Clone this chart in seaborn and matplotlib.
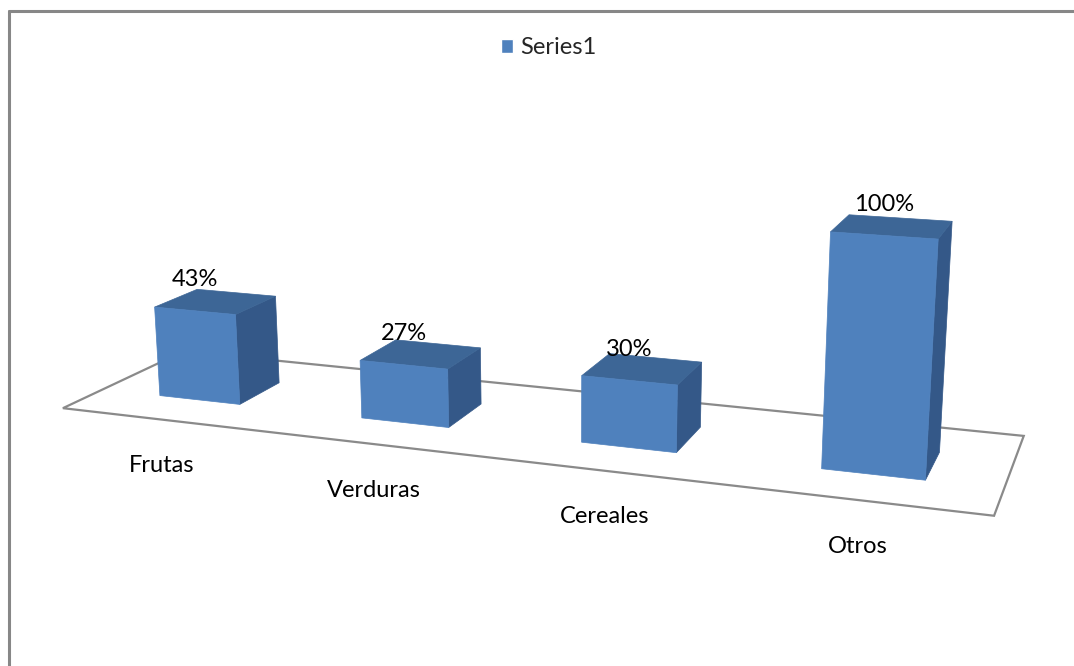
import numpy as np
import pandas as pd
import seaborn as sns
import matplotlib
matplotlib.use("Agg")
import matplotlib.pyplot as plt
import matplotlib.transforms as mtransforms
from matplotlib.patches import Rectangle
from matplotlib.lines import Line2D

# ---------------- data ----------------
categories = ["Frutas", "Verduras", "Cereales", "Otros"]
values = [43, 27, 30, 100]
series = "Series1"

# ---------------- layout / style ----------------
FIG_W, FIG_H, DPI = 10.74, 6.66, 100
H_PX = FIG_H * DPI
FRONT, TOP, SIDE = "#4F81BD", "#3D6696", "#345888"
FLOOR_EDGE = "#8a8a8a"
FONT_SIZE = 17

# 3-D view: world (x = category, y = value / 100, z = depth) -> pixels
CAMERA = np.array([
    [195.6084, -17.6078, 144.918, 162.0365],
    [5.617237, -224.514, -17.07231, 419.6231],
    [-0.04236196, -0.03101755, 0.1168509, 1.0],
])
BAR_WIDTH = 0.4056           # fraction of the category step
Z_FRONT, Z_BACK = 0.3082, 0.668  # bar depth range inside the floor (0..1)
LABEL_DROP_PX = 46           # category labels below the floor's front edge
VALUE_RISE_PX = 31           # value labels above the bar's front top edge

sns.set_theme(style="white")
plt.rcParams["font.family"] = ["Lato", "DejaVu Sans"]


class Projected(mtransforms.Transform):
    """Maps 2-D coordinates on a plane of the 3-D scene to display pixels."""
    input_dims = output_dims = 2
    is_separable = False
    has_inverse = False

    def __init__(self, to_world):
        super().__init__()
        self.to_world = to_world

    def transform_non_affine(self, values):
        v = np.asarray(values, float).reshape(-1, 2)
        X, Y, Z = np.broadcast_arrays(*self.to_world(v[:, 0], v[:, 1]))
        hom = np.vstack([X, Y, Z, np.ones_like(X)])
        u, w, s = CAMERA @ hom
        return np.column_stack([u / s, H_PX - w / s])


front_tf = Projected(lambda a, b: (a, b / 100.0, Z_FRONT))
floor_tf = Projected(lambda a, b: (a, 0.0, b))
edge_tf = Projected(lambda a, b: (a, b / 100.0, 0.0))

fig = plt.figure(figsize=(FIG_W, FIG_H), dpi=DPI)
ax = fig.add_axes([0, 0, 1, 1])
ax.set_axis_off()

df = pd.DataFrame({"categoria": categories, "valor": values, "serie": series})
sns.barplot(data=df, x="categoria", y="valor", hue="serie", palette=[FRONT],
            saturation=1, width=BAR_WIDTH, dodge=False, ax=ax, legend=True)

# floor of the 3-D plot area
n_cat = len(categories)
ax.add_patch(Rectangle((-0.5, 0), n_cat, 1, transform=floor_tf, fill=False,
                       edgecolor=FLOOR_EDGE, linewidth=1.6, zorder=1,
                       clip_on=False))

pt = 72 / DPI
for k, bar in enumerate(ax.containers[0]):
    x0, w, v = bar.get_x(), bar.get_width(), bar.get_height()
    xr = x0 + w
    side_tf = Projected(lambda a, b, xr=xr: (xr, b / 100.0, a))
    top_tf = Projected(lambda a, b, v=v: (a, v / 100.0, b))
    ax.add_patch(Rectangle((Z_FRONT, 0), Z_BACK - Z_FRONT, v, transform=side_tf,
                           facecolor=SIDE, edgecolor=SIDE, linewidth=0.5,
                           zorder=2 + k, clip_on=False))
    ax.add_patch(Rectangle((x0, Z_FRONT), w, Z_BACK - Z_FRONT, transform=top_tf,
                           facecolor=TOP, edgecolor=TOP, linewidth=0.5,
                           zorder=2 + k, clip_on=False))
    bar.set_transform(front_tf)
    bar.set_edgecolor(FRONT)
    bar.set_linewidth(0.5)
    bar.set_zorder(2.5 + k)
    bar.set_clip_on(False)

    ax.annotate(f"{v:.0f}%", xy=(x0 + w / 2, v), xycoords=front_tf,
                xytext=(0, VALUE_RISE_PX * pt), textcoords="offset points",
                ha="center", va="center", fontsize=FONT_SIZE, color="black",
                zorder=10)
    ax.annotate(categories[k], xy=(x0 + w / 2, 0), xycoords=edge_tf,
                xytext=(0, -LABEL_DROP_PX * pt), textcoords="offset points",
                ha="center", va="center", fontsize=FONT_SIZE, color="black",
                zorder=10)

sns.move_legend(ax, "center", bbox_to_anchor=(0.511, 0.928), title=None,
                frameon=False, fontsize=FONT_SIZE, handlelength=0.5,
                handleheight=0.5, handletextpad=0.3)

# chart-area border (top and left sides)
px = mtransforms.IdentityTransform()
fig.add_artist(Line2D([9, FIG_W * DPI], [H_PX - 11, H_PX - 11], transform=px,
                      color="#878787", linewidth=2.2))
fig.add_artist(Line2D([9, 9], [H_PX - 11, 0], transform=px,
                      color="#878787", linewidth=2.2))

fig.savefig("out.png", dpi=DPI)
